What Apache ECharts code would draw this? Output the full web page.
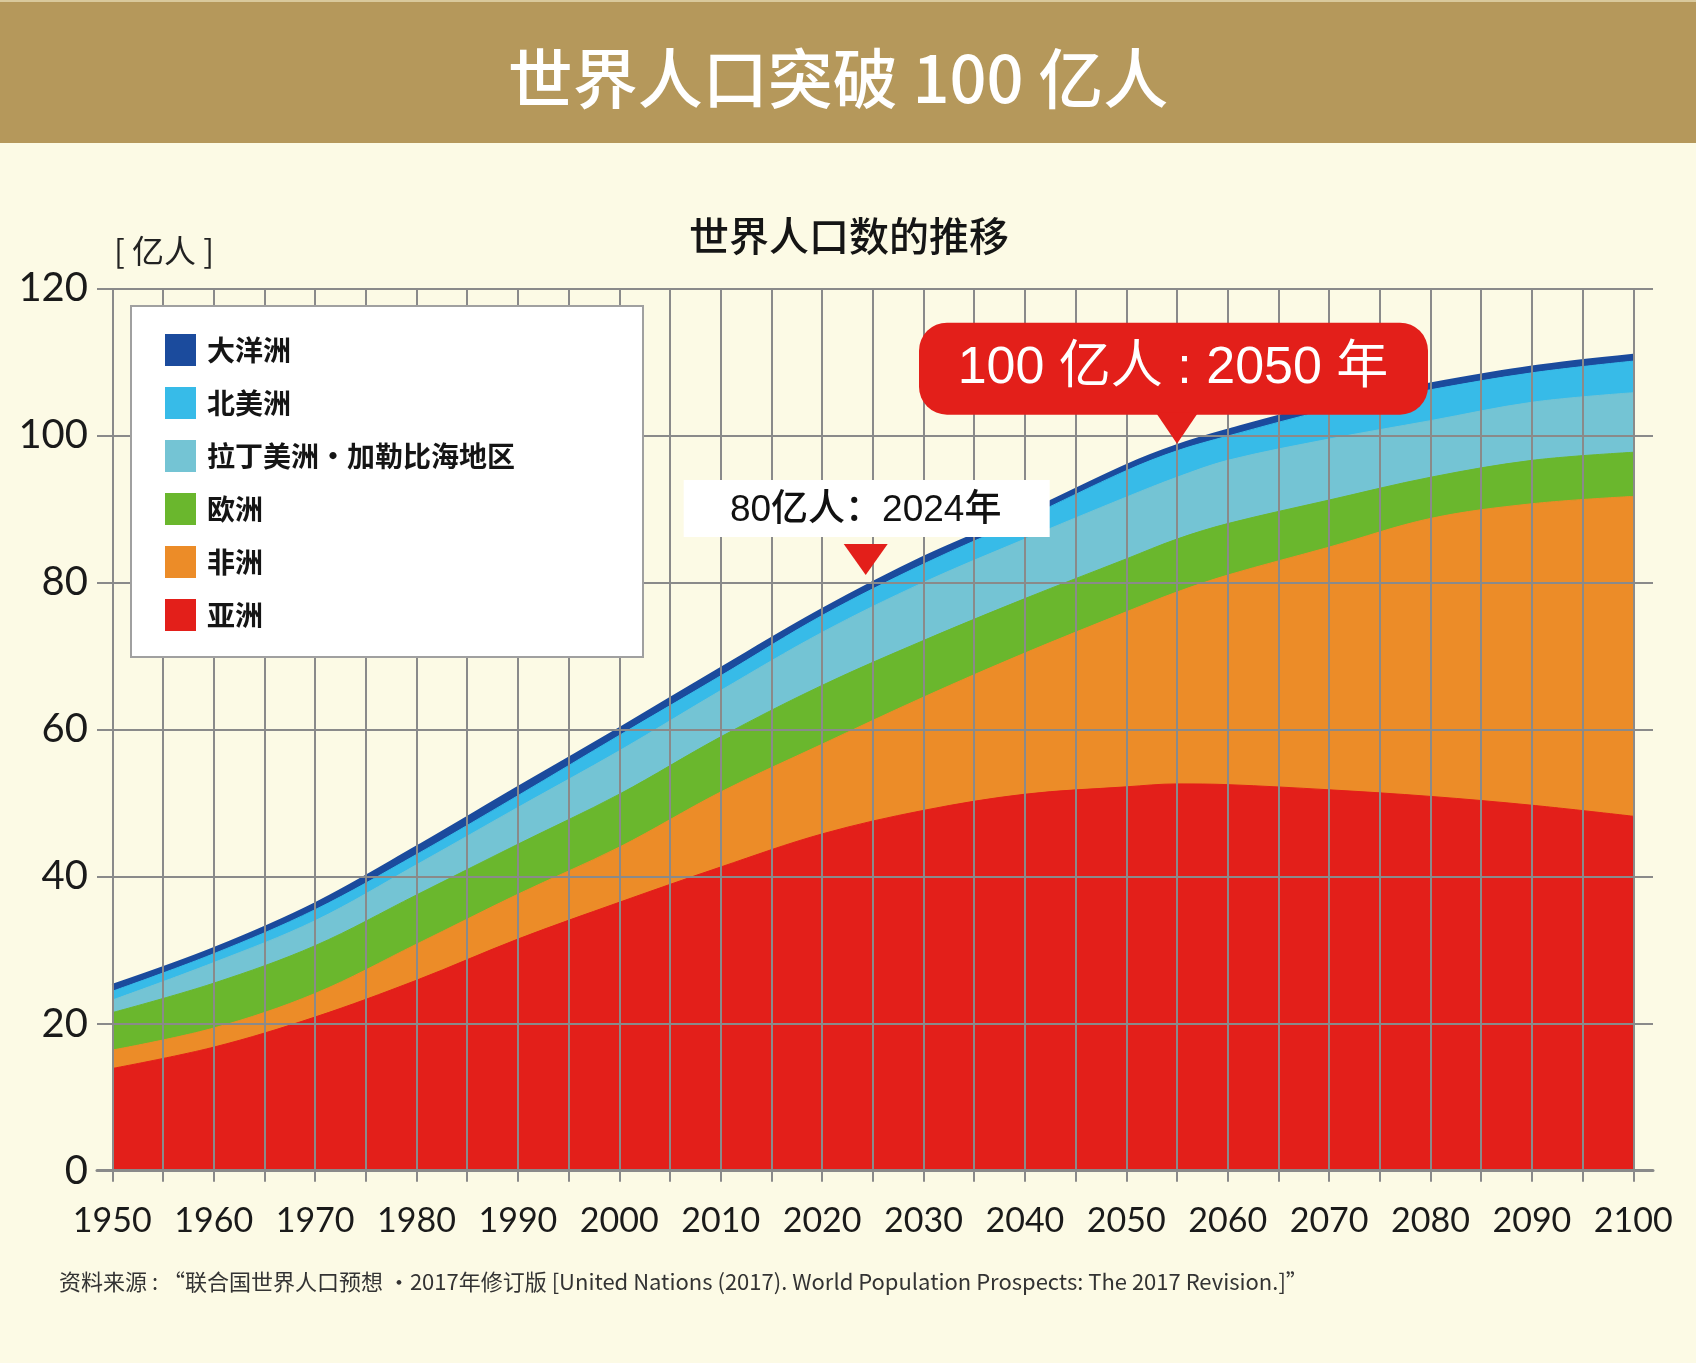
<!DOCTYPE html>
<html><head><meta charset="utf-8">
<script src="https://cdn.jsdelivr.net/npm/echarts@6/dist/echarts.min.js"></script>
<style>html,body{margin:0;padding:0;background:#fcfae5}#c{width:1696px;height:1363px}</style>
</head><body><div id="c"></div>
<script>
// ---- data (亿人) ----
const years = [1950,1960,1970,1980,1990,2000,2010,2020,2030,2040,2050,2055,2060,2070,2080,2090,2100];
const asia = [13.9,16.8,20.9,25.9,31.5,36.5,41.3,45.8,49.0,51.2,52.2,52.6,52.5,51.8,50.9,49.7,48.2];
const africa = [2.5,2.6,3.2,4.9,6.1,7.5,10.2,12.2,15.4,19.2,23.8,26.1,28.5,33.0,37.8,41.0,43.5];
const europe = [5.1,6.1,6.5,6.7,6.8,7.2,7.5,8.0,7.7,7.4,7.2,7.2,7.0,6.4,5.6,5.9,6.0];
const latinAmerica = [1.7,2.8,3.4,4.1,5.0,5.9,6.3,7.2,7.9,8.1,8.4,8.4,8.6,8.3,7.7,7.9,8.1];
const northAmerica = [1.2,1.2,1.5,1.4,1.6,2.1,2.0,2.3,2.5,2.8,3.6,3.6,3.3,4.0,4.2,4.0,4.3];
const oceania = [0.8,0.7,0.8,1.0,1.1,0.9,1.0,0.8,0.9,0.7,0.7,0.7,0.8,0.8,0.8,0.8,0.8];
const yTicks = [0,20,40,60,80,100,120];
const xLabelYears = [1950,1960,1970,1980,1990,2000,2010,2020,2030,2040,2050,2060,2070,2080,2090,2100];
const legendOrder = ['大洋洲','北美洲','拉丁美洲·加勒比海地区','欧洲','非洲','亚洲'];
const annotations = [
  {text:'100 亿人 : 2050 年', year:2055, value:98.6},
  {text:'80亿人：2024年', year:2024.3, value:81}
];

const COLORS = {'亚洲':'#e31f1a','非洲':'#ec8c28','欧洲':'#6ab72d','拉丁美洲·加勒比海地区':'#74c4d4','北美洲':'#37bbe8','大洋洲':'#1b4b9d'};
// bottom -> top
const layers = [['亚洲',asia],['非洲',africa],['欧洲',europe],['拉丁美洲·加勒比海地区',latinAmerica],['北美洲',northAmerica],['大洋洲',oceania]];
const GRID = '#8a8a8a';
const NUMFONT = 'Lato';
const CJK = '"Noto Sans CJK SC"';

// cumulative stacking (computed from the layer arrays), drawn top layer first so lower layers paint over
const running = years.map(() => 0);
const stacked = layers.map(([name, vals]) => {
  const cum = vals.map((v, i) => (running[i] = +(running[i] + v).toFixed(2)));
  return [name, cum];
});
const series = stacked.slice().reverse().map(([name, cum]) => ({
  name, type:'line', xAxisIndex:0, yAxisIndex:0,
  smooth:0.35, symbol:'none', showSymbol:false,
  data: cum.map((v,i)=>[years[i], v]),
  itemStyle:{color:COLORS[name]},
  lineStyle: name==='大洋洲' ? {color:COLORS[name], width:3} : {color:COLORS[name], width:1},
  areaStyle:{color:COLORS[name], opacity:1},
  emphasis:{disabled:true}
}));

const chart = echarts.init(document.getElementById('c'), null, {renderer:'canvas'});
chart.setOption({
  backgroundColor:'#fcfae5',
  animation:false,
  grid:[
    {left:112.3, right:62.7, top:288.3, bottom:192.3},
    {left:97, right:43, top:288.3, bottom:192.3}
  ],
  xAxis:[
    {gridIndex:0, type:'value', min:1950, max:2100, interval:5, z:5,
     axisLine:{show:false},
     axisTick:{show:true, length:11, lineStyle:{color:GRID, width:2}},
     splitLine:{show:true, lineStyle:{color:GRID, width:2}},
     axisLabel:{fontSize:34, color:'#1a1a1a', fontFamily:NUMFONT, margin:33,
       formatter:v => xLabelYears.includes(v) ? String(v) : ''}},
    {gridIndex:1, type:'value', min:0, max:1, z:6,
     axisLine:{show:true, lineStyle:{color:GRID, width:3}},
     axisTick:{show:false}, axisLabel:{show:false}, splitLine:{show:false}}
  ],
  yAxis:[
    {gridIndex:0, type:'value', min:0, max:120, interval:20, show:false},
    {gridIndex:1, type:'value', min:yTicks[0], max:yTicks[yTicks.length-1], interval:20, z:5,
     axisLine:{show:false}, axisTick:{show:false},
     splitLine:{show:true, lineStyle:{color:GRID, width:2}},
     axisLabel:{fontSize:40, color:'#1a1a1a', fontFamily:NUMFONT, margin:9}}
  ],
  legend:{
    orient:'vertical', left:165, top:334, padding:0, itemWidth:31, itemHeight:32, itemGap:21,
    icon:'rect', selectedMode:false, z:30,
    data: legendOrder.map(n => ({name:n, itemStyle:{color:COLORS[n]}})),
    textStyle:{fontSize:28, fontWeight:'bold', color:'#151515', fontFamily:'Noto Sans CJK SC', padding:[0,0,0,6]}
  },
  series
});

const tip1 = chart.convertToPixel({gridIndex:0}, [annotations[0].year, annotations[0].value]);
const tip2 = chart.convertToPixel({gridIndex:0}, [annotations[1].year, annotations[1].value]);
const RED = '#e31f1a';

function txt(x, y, text, font, fill, align){
  return {type:'text', x, y, z:40, style:{text, font, fill, align:align||'center', verticalAlign:'middle', textAlign:align||'center', textVerticalAlign:'middle'}};
}

chart.setOption({
  graphic:[
    {type:'rect', z:1, shape:{x:0, y:0, width:1696, height:143}, style:{fill:'#b5985b'}},
    {type:'rect', z:1, shape:{x:0, y:0, width:1696, height:2}, style:{fill:'#d9c99c'}},
    txt(838, 78, '世界人口突破 100 亿人', '500 65px ' + CJK, '#ffffff'),
    txt(849, 236, '世界人口数的推移', '500 40px ' + CJK, '#151515'),
    txt(114, 251, '[ 亿人 ]', 'normal 32px ' + CJK, '#222222', 'left'),
    txt(59, 1282, '资料来源 : “联合国世界人口预想 ·2017年修订版 [United Nations (2017). World Population Prospects: The 2017 Revision.]”', 'normal 22px ' + CJK, '#333333', 'left'),
    // legend box
    {type:'rect', z:25, shape:{x:131, y:306, width:512, height:351}, style:{fill:'#ffffff', stroke:'#a0a0a0', lineWidth:2}},
    // callout 1 (red)
    {type:'rect', z:35, shape:{x:tip1[0]-258, y:tip1[1]-123, width:509, height:92, r:28}, style:{fill:RED}},
    {type:'polygon', z:35, shape:{points:[[tip1[0]-21, tip1[1]-33],[tip1[0]+21, tip1[1]-33],[tip1[0], tip1[1]-2]]}, style:{fill:RED}},
    txt(tip1[0]-4, tip1[1]-77, annotations[0].text, 'normal 52px "Liberation Sans", ' + CJK, '#ffffff'),
    // callout 2 (white)
    {type:'rect', z:35, shape:{x:tip2[0]-182, y:tip2[1]-95, width:366, height:57}, style:{fill:'#ffffff'}},
    {type:'polygon', z:35, shape:{points:[[tip2[0]-22, tip2[1]-31],[tip2[0]+22, tip2[1]-31],[tip2[0], tip2[1]]]}, style:{fill:RED}},
    txt(tip2[0], tip2[1]-64, annotations[1].text, '500 37px "Liberation Sans", ' + CJK, '#111111')
  ]
});
</script></body></html>
